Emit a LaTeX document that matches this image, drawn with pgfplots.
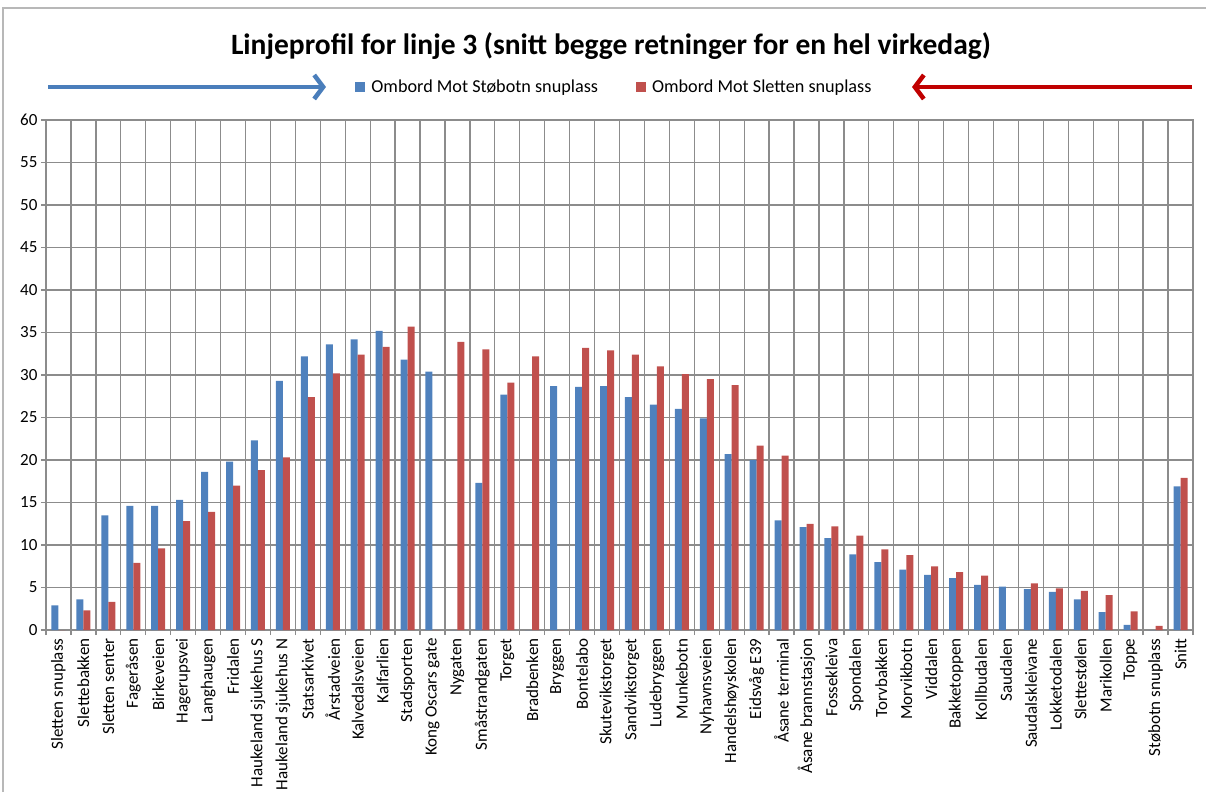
\documentclass[border=0pt]{standalone}
\usepackage{pgfplots}
\pgfplotsset{compat=1.18}
\usepackage{pgfplotstable}
\usepackage{fontspec}
\setmainfont{Carlito}
\usetikzlibrary{arrows.meta}
\definecolor{xblue}{HTML}{4F81BD}
\definecolor{xred}{HTML}{C0504D}
\definecolor{gridgray}{HTML}{8C8C8C}
\definecolor{arrblue}{HTML}{4A7EBB}
\definecolor{arrred}{HTML}{C00000}

\pgfplotstableread{
x blue red
0 2.9 0
1 3.6 2.3
2 13.5 3.3
3 14.6 7.9
4 14.6 9.6
5 15.3 12.8
6 18.6 13.9
7 19.8 17.0
8 22.3 18.8
9 29.3 20.3
10 32.2 27.4
11 33.6 30.2
12 34.2 32.4
13 35.2 33.3
14 31.8 35.7
15 30.4 0
16 0 33.9
17 17.3 33.0
18 27.7 29.1
19 0 32.2
20 28.7 0
21 28.6 33.2
22 28.7 32.9
23 27.4 32.4
24 26.5 31.0
25 26.0 30.1
26 24.9 29.5
27 20.7 28.8
28 20.0 21.7
29 12.9 20.5
30 12.1 12.5
31 10.8 12.2
32 8.9 11.1
33 8.0 9.5
34 7.1 8.8
35 6.5 7.5
36 6.1 6.8
37 5.3 6.4
38 5.1 0
39 4.8 5.5
40 4.5 4.9
41 3.6 4.6
42 2.1 4.1
43 0.6 2.2
44 0 0.5
45 16.9 17.9
}\data

\begin{document}
\begin{tikzpicture}
\useasboundingbox (0pt,0pt) rectangle (1206pt,792pt);
\draw[color=black!28, line width=1.5pt] (3pt,0pt) -- (3pt,784pt) -- (1206pt,784pt);
\node[font=\fontsize{29.5}{34}\selectfont\bfseries] at (611pt,746pt) {Linjeprofil for linje 3 (snitt begge retninger for en hel virkedag)};
\draw[arrblue, line width=4.5pt, -{Straight Barb[length=9pt,width=24pt,line width=4.5pt]}] (48pt,705pt) -- (326pt,705pt);
\draw[arrred, line width=4.5pt, -{Straight Barb[length=9pt,width=24pt,line width=4.5pt]}] (1192pt,705pt) -- (912pt,705pt);
\begin{axis}[
  at={(46pt,162pt)}, anchor=south west,
  scale only axis, width=1147pt, height=510pt,
  ybar=0pt, bar width=7pt,
  xmin=-0.5, xmax=45.5, ymin=0, ymax=60,
  ytick={0,5,...,60},
  xtick={0,...,45},
  minor xtick={-0.5,0.5,...,45.5},
  xticklabels={Sletten snuplass, Slettebakken, Sletten senter, Fageråsen, Birkeveien, Hagerupsvei, Langhaugen, Fridalen, Haukeland sjukehus S, Haukeland sjukehus N, Statsarkivet, Årstadveien, Kalvedalsveien, Kalfarlien, Stadsporten, Kong Oscars gate, Nygaten, Småstrandgaten, Torget, Bradbenken, Bryggen, Bontelabo, Skutevikstorget, Sandvikstorget, Ludebryggen, Munkebotn, Nyhavnsveien, Handelshøyskolen, Eidsvåg E39, Åsane terminal, Åsane brannstasjon, Fossekleiva, Spondalen, Torvbakken, Morvikbotn, Viddalen, Bakketoppen, Kollbudalen, Saudalen, Saudalskleivane, Lokketodalen, Slettestølen, Marikollen, Toppe, Støbotn snuplass, Snitt},
  /pgf/number format/assume math mode=true,
  xminorgrids=true, xmajorgrids=false, ymajorgrids=true,
  grid style={gridgray, line width=1.3pt},
  minor grid style={gridgray, line width=1.3pt},
  axis line style={gridgray, line width=1.3pt},
  tick style={gridgray, line width=1.3pt},
  every major x tick/.append style={draw=none},
  tick align=outside, tick pos=left,
  major tick length=5pt, minor tick length=5pt,
  x tick label style={rotate=90, anchor=east, font=\fontsize{17}{20}\selectfont},
  y tick label style={font=\fontsize{17}{20}\selectfont},
  legend columns=2,
  legend style={at={(0.4956,1.0647)}, anchor=center, draw=none, fill=none,
    font=\fontsize{18.2}{20}\selectfont,
    /tikz/every odd column/.append style={column sep=4pt},
    /tikz/every even column/.append style={column sep=36pt}},
  legend image code/.code={\fill[#1,draw=none] (0pt,-5pt) rectangle (10pt,5pt);},
]
\addplot[fill=xblue, draw=none] table[x=x, y=blue] {\data};
\addplot[fill=xred, draw=none] table[x=x, y=red] {\data};
\legend{Ombord Mot Støbotn snuplass, Ombord Mot Sletten snuplass}
\end{axis}
\end{tikzpicture}
\end{document}
